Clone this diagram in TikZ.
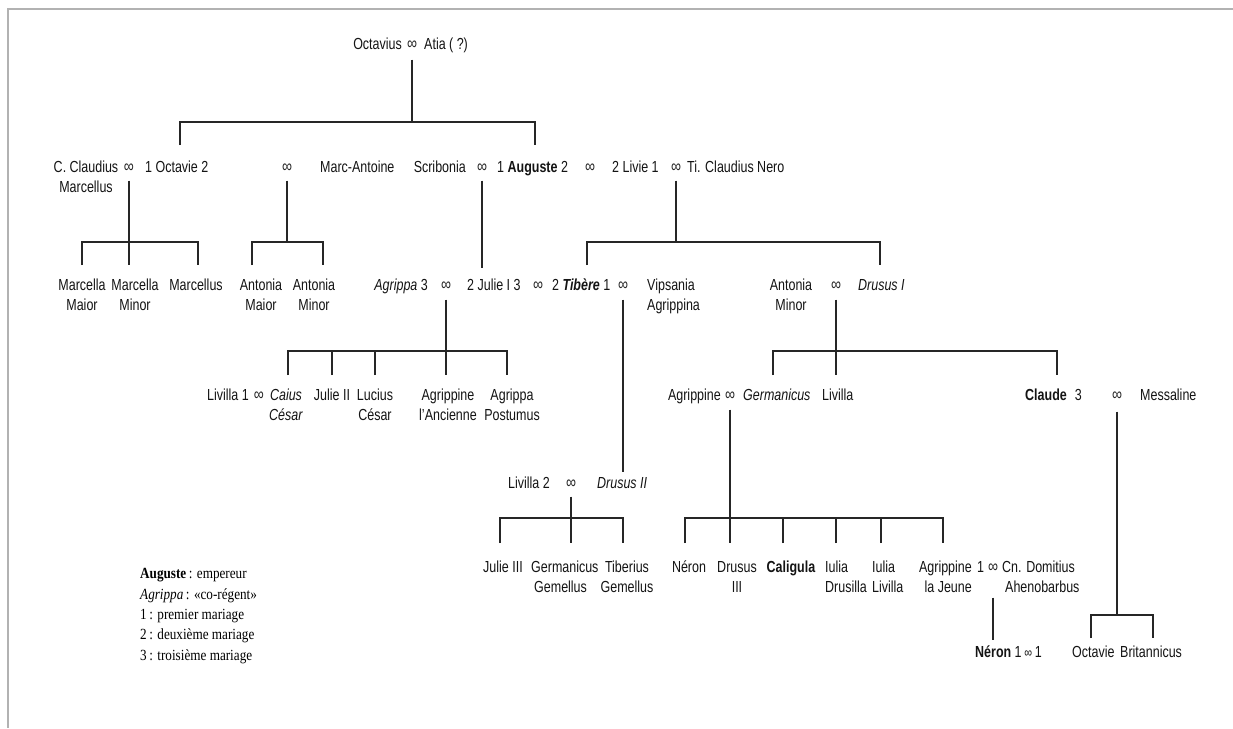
\documentclass[tikz,border=0pt]{standalone}
\usepackage{fontspec}
\setmainfont{Liberation Sans}[FakeStretch=0.78]
\newfontfamily\legendfont{Liberation Serif}[FakeStretch=0.85]
\begin{document}
\begin{tikzpicture}[x=1pt,y=-1pt,
  person/.style={inner sep=0pt, anchor=base, font=\fontsize{16}{20.5}\selectfont, text=black!92},
  marr/.style={inner sep=0pt, anchor=center, yshift=-1.5pt, font=\fontsize{18}{20}\selectfont, text=black!85},
  link/.style={line width=1.7pt, draw=black!85},
  legend/.style={inner sep=0pt, anchor=base west, align=left, font=\legendfont\fontsize{15.5}{20.3}\selectfont, text=black},
  frame/.style={line width=1.2pt, draw=black!30}]
\useasboundingbox (0,0) rectangle (1233,728);
\fill[white] (0,0) rectangle (1233,728);
% frame
\coordinate (f1) at (1233,9);
\coordinate (f2) at (8,9);
\coordinate (f3) at (8,728);
\draw[frame] (f1) -- (f2) -- (f3);

% Row 0
\node[person, anchor=base east] (n-oct) at (402,49) {Octavius};
\node[marr] (m0) at (412,44) {∞};
\node[person, anchor=base west] (n-atia) at (424,49) {Atia ( ?)};

% Row 1
\node[person, align=center] (n-cc) at (86,192.5) {C. Claudius\\Marcellus};
\node[marr] (m1) at (129,167) {∞};
\node[person, anchor=base west] (n-octavie) at (145,172) {1 Octavie 2};
\node[marr] (m2) at (287,167) {∞};
\node[person, anchor=base west] (n-ma) at (320,172) {Marc-Antoine};
\node[person, anchor=base east] (n-scr) at (466,172) {Scribonia};
\node[marr] (m3) at (482,167) {∞};
\node[person, anchor=base west] (n-aug) at (497,172) {1 \textbf{Auguste} 2};
\node[marr] (m4) at (590,167) {∞};
\node[person, anchor=base west] (n-liv) at (612,172) {2 Livie 1};
\node[marr] (m5) at (676,167) {∞};
\node[person, anchor=base west] (n-tcn) at (687,172) {Ti. Claudius Nero};

% Row 2
\node[person, align=center] (n-mmaj) at (82,310.5) {Marcella\\Maior};
\node[person, align=center] (n-mmin) at (135,310.5) {Marcella\\Minor};
\node[person] (n-mcs) at (196,290) {Marcellus};
\node[person, align=center] (n-amaj) at (261,310.5) {Antonia\\Maior};
\node[person, align=center] (n-amin) at (314,310.5) {Antonia\\Minor};
\node[person, anchor=base east] (n-agr) at (428,290) {\textit{Agrippa} 3};
\node[marr] (m6) at (446,285) {∞};
\node[person, anchor=base west] (n-jul) at (467,290) {2 Julie I 3};
\node[marr] (m7) at (538,285) {∞};
\node[person, anchor=base west] (n-tib) at (552,290) {2 \textbf{\textit{Tibère}} 1};
\node[marr] (m8) at (623,285) {∞};
\node[person, anchor=base west, align=left] (n-vip) at (647,310.5) {Vipsania\\Agrippina};
\node[person, align=center] (n-amin2) at (791,310.5) {Antonia\\Minor};
\node[marr] (m9) at (836,285) {∞};
\node[person, anchor=base west] (n-dru) at (858,290) {\textit{Drusus I}};

% Row 3
\node[person, anchor=base east] (n-liv1) at (249,400) {Livilla 1};
\node[marr] (m14) at (259,395) {∞};
\node[person, align=center] (n-caius) at (286,420.5) {\textit{Caius}\\\textit{César}};
\node[person] (n-jul2) at (332,400) {Julie II};
\node[person, align=center] (n-luc) at (375,420.5) {Lucius\\César};
\node[person, align=center] (n-agra) at (448,420.5) {Agrippine\\l'Ancienne};
\node[person, align=center] (n-agpo) at (512,420.5) {Agrippa\\Postumus};
\node[person, anchor=base east] (n-agr2) at (721,400) {Agrippine};
\node[marr] (m10) at (730,395) {∞};
\node[person, anchor=base west] (n-ger) at (743,400) {\textit{Germanicus}};
\node[person, anchor=base west] (n-liv3) at (822,400) {Livilla};
\node[person, anchor=base west] (n-cla) at (1025,400) {\textbf{Claude}\enspace 3};
\node[marr] (m11) at (1117,395) {∞};
\node[person, anchor=base west] (n-mes) at (1140,400) {Messaline};

% Row 3.5
\node[person, anchor=base east] (n-liv2) at (550,488) {Livilla 2};
\node[marr] (m12) at (571,483) {∞};
\node[person, anchor=base west] (n-dru2) at (597,488) {\textit{Drusus II}};

% Row 4
\node[person] (n-jul3) at (503,572) {Julie III};
\node[person, anchor=base west, align=left] (n-gge) at (531,592.5) {Germanicus\\\hspace{3pt}Gemellus};
\node[person, align=center] (n-tge) at (627,592.5) {Tiberius\\Gemellus};
\node[person] (n-ner) at (689,572) {Néron};
\node[person, align=center] (n-dr3) at (737,592.5) {Drusus\\III};
\node[person] (n-cal) at (791,572) {\textbf{Caligula}};
\node[person, anchor=base west, align=left] (n-idr) at (825,592.5) {Iulia\\Drusilla};
\node[person, anchor=base west, align=left] (n-ili) at (872,592.5) {Iulia\\Livilla};
\node[person, anchor=base east, align=right] (n-agj) at (972,592.5) {Agrippine\\la Jeune};
\node[person, anchor=base west] (n-one) at (977,572) {1};
\node[marr] (m13) at (993,567) {∞};
\node[person, anchor=base west, align=left] (n-cnd) at (1002,592.5) {Cn. Domitius\\\hspace{3pt}Ahenobarbus};

% Row 5
\node[person, anchor=base west] (n-nero) at (975,657) {\textbf{Néron} 1\,{\fontsize{14}{16}\selectfont ∞}\,1};
\node[person, anchor=base west] (n-octv) at (1072,657) {Octavie};
\node[person, anchor=base west] (n-bri) at (1120,657) {Britannicus};

% Legend
\node[legend] (leg) at (140,660) {\textbf{Auguste}\,: empereur\\\textit{Agrippa}\,: «co-régent»\\1\,: premier mariage\\2\,: deuxième mariage\\3\,: troisième mariage};

% ---- connectors ----
% Octavius & Atia
\coordinate (b0) at (412,122);
\coordinate (d-octavie) at (180,145);
\coordinate (d-aug) at (535,145);
\draw[link] ([yshift=-14pt]m0.center) -- (b0);
\draw[link] (d-octavie) |- (b0) -| (d-aug);

% C. Claudius Marcellus & Octavie
\coordinate (b1) at (129,242);
\coordinate (d-mmaj) at (82,265);
\coordinate (d-mmin) at (129,265);
\coordinate (d-mcs) at (198,265);
\draw[link] ([yshift=-12pt]m1.center) -- (d-mmin);
\draw[link] (d-mmaj) |- (b1) -| (d-mcs);

% Octavie & Marc-Antoine
\coordinate (b2) at (287,242);
\coordinate (d-amaj) at (252,265);
\coordinate (d-amin) at (323,265);
\draw[link] ([yshift=-12pt]m2.center) -- (b2);
\draw[link] (d-amaj) |- (b2) -| (d-amin);

% Scribonia & Auguste -> Julie I
\coordinate (d-jul) at (482,268);
\draw[link] ([yshift=-12pt]m3.center) -- (d-jul);

% Livie & Ti. Claudius Nero
\coordinate (b5) at (676,242);
\coordinate (d-tib) at (587,265);
\coordinate (d-dru) at (880,265);
\draw[link] ([yshift=-12pt]m5.center) -- (b5);
\draw[link] (d-tib) |- (b5) -| (d-dru);

% Agrippa & Julie I
\coordinate (b6) at (446,351);
\coordinate (d-caius) at (288,375);
\coordinate (d-jul2) at (332,375);
\coordinate (d-luc) at (375,375);
\coordinate (d-agra) at (446,375);
\coordinate (d-agpo) at (507,375);
\draw[link] ([yshift=-13pt]m6.center) -- (d-agra);
\draw[link] (d-caius) |- (b6) -| (d-agpo);
\draw[link] (d-jul2) -- (d-jul2 |- b6);
\draw[link] (d-luc) -- (d-luc |- b6);

% Tibere & Vipsania -> Drusus II
\coordinate (d-dru2) at (623,472);
\draw[link] ([yshift=-13pt]m8.center) -- (d-dru2);

% Antonia Minor & Drusus I
\coordinate (b9) at (836,351);
\coordinate (d-ger) at (773,375);
\coordinate (d-liv3) at (836,375);
\coordinate (d-cla) at (1057,375);
\draw[link] ([yshift=-13pt]m9.center) -- (d-liv3);
\draw[link] (d-ger) |- (b9) -| (d-cla);

% Livilla & Drusus II
\coordinate (b12) at (571,518);
\coordinate (d-jul3) at (500,543);
\coordinate (d-gge) at (571,543);
\coordinate (d-tge) at (623,543);
\draw[link] ([yshift=-12pt]m12.center) -- (d-gge);
\draw[link] (d-jul3) |- (b12) -| (d-tge);

% Agrippine & Germanicus
\coordinate (b10) at (730,518);
\coordinate (d-ner) at (685,543);
\coordinate (d-dr3) at (730,543);
\coordinate (d-cal) at (783,543);
\coordinate (d-idr) at (836,543);
\coordinate (d-ili) at (881,543);
\coordinate (d-agj) at (943,543);
\draw[link] ([yshift=-13pt]m10.center) -- (d-dr3);
\draw[link] (d-ner) |- (b10) -| (d-agj);
\draw[link] (d-cal) -- (d-cal |- b10);
\draw[link] (d-idr) -- (d-idr |- b10);
\draw[link] (d-ili) -- (d-ili |- b10);

% Agrippine la Jeune & Cn. Domitius -> Neron
\coordinate (d-nero) at (993,640);
\draw[link] ([yshift=-29pt]m13.center) -- (d-nero);

% Claude & Messaline
\coordinate (b11) at (1117,615);
\coordinate (d-octv) at (1091,638);
\coordinate (d-bri) at (1153,638);
\draw[link] ([yshift=-15pt]m11.center) -- (b11);
\draw[link] (d-octv) |- (b11) -| (d-bri);
\end{tikzpicture}
\end{document}
